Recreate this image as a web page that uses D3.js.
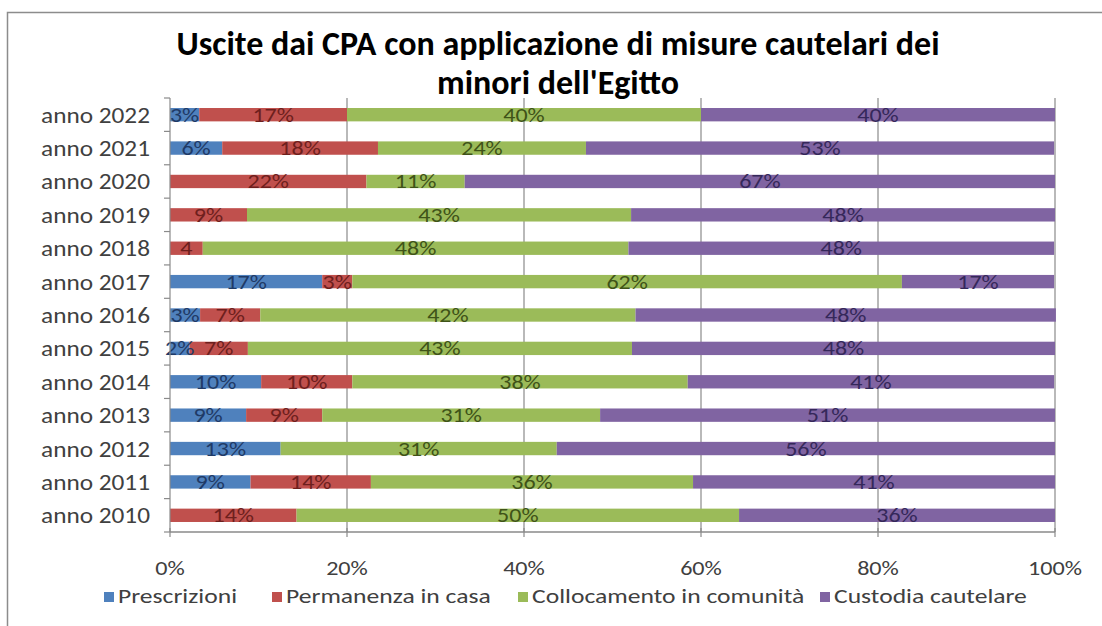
<!DOCTYPE html>
<html>
<head>
<meta charset="utf-8">
<script src="https://cdn.jsdelivr.net/npm/d3@7"></script>
<style>
  body { margin: 0; background: #fff; }
  svg text { font-family: Carlito, Calibri, "Liberation Sans Narrow", "Noto Sans", sans-serif; }
</style>
</head>
<body>
<div id="chart"></div>
<script>
// anni, dall'alto verso il basso
var years = ["anno 2022","anno 2021","anno 2020","anno 2019","anno 2018","anno 2017","anno 2016",
             "anno 2015","anno 2014","anno 2013","anno 2012","anno 2011","anno 2010"];
var series = ["Prescrizioni","Permanenza in casa","Collocamento in comunità","Custodia cautelare"];

// quote in percentuale per ogni anno (stesso ordine di years)
var prescrizioni = [3.3, 5.9, 0,    0,    0,   17.2, 3.4, 2.2, 10.3, 8.6, 12.5, 9.1, 0];
var permanenza   = [16.7,17.6,22.2, 8.7,  3.7, 3.4,  6.8, 6.6, 10.3, 8.6, 0,    13.6,14.3];
var collocamento = [40,  23.5,11.1, 43.4, 48.1,62.1, 42.4,43.4,37.9, 31.4,31.2, 36.4,50];
var custodia     = [40,  52.9,66.7, 47.9, 48.1,17.2, 47.5,47.8,41.4, 51.4,56.3, 40.9,35.7];
var xTicks = [0, 20, 40, 60, 80, 100];

var colors = ["#4f81bd","#c0504d","#9bbb59","#8064a2"];
var labelColors = ["#1f3a66","#6e1f1d","#3f5318","#35285a"];

var width = 1102, height = 626;
var svg = d3.select("#chart").append("svg")
  .attr("width", width)
  .attr("height", height);

// il grafico originale e' stirato in orizzontale: i testi vengono allargati
function stretch(sel, fx, fy, s) {
  sel.attr("transform", function(d, i) {
    return "translate(" + fx(d, i) + "," + fy(d, i) + ") scale(" + s + ",1)";
  });
}

// cornice
svg.append("path")
  .attr("d", "M7.5,640 V12.5 H1110")
  .attr("fill", "none")
  .attr("stroke", "#8c8c8c")
  .attr("stroke-width", 1.5);

var x = d3.scaleLinear().domain([0, 100]).range([170, 1055]);
var y = d3.scaleBand().domain(years).range([98, 532]).paddingInner(0.6).paddingOuter(0.3);
var step = y.step();

var table = years.map(function(yr, i) {
  return { year: yr, s0: prescrizioni[i], s1: permanenza[i], s2: collocamento[i], s3: custodia[i] };
});
var stacked = d3.stack().keys(["s0","s1","s2","s3"])(table);
var values = [prescrizioni, permanenza, collocamento, custodia];

// griglia verticale
svg.append("g").selectAll("line")
  .data(xTicks.slice(1))
  .enter().append("line")
  .attr("x1", function(d) { return x(d); })
  .attr("x2", function(d) { return x(d); })
  .attr("y1", 98)
  .attr("y2", 532)
  .attr("stroke", "#8a8a8a")
  .attr("stroke-width", 1.2);

// barre
var layer = svg.append("g").selectAll("g")
  .data(stacked)
  .enter().append("g")
  .attr("fill", function(d, i) { return colors[i]; });

layer.selectAll("rect")
  .data(function(d) { return d; })
  .enter().append("rect")
  .attr("x", function(d) { return x(d[0]); })
  .attr("width", function(d) { return x(d[1]) - x(d[0]); })
  .attr("y", function(d) { return y(d.data.year); })
  .attr("height", y.bandwidth());

// etichette dati
stacked.forEach(function(s, i) {
  var t = svg.append("g").selectAll("text")
    .data(s.filter(function(d) { return d[1] - d[0] > 0; }))
    .enter().append("text")
    .attr("text-anchor", "middle")
    .attr("font-size", "20px")
    .attr("fill", labelColors[i])
    .text(function(d) {
      var v = Math.round(values[i][years.indexOf(d.data.year)]);
      // nel grafico originale l'etichetta del 2018 e' troncata
      return (d.data.year == "anno 2018" && i == 1) ? v : v + "%";
    });
  stretch(t,
    function(d) { return x((d[0] + d[1]) / 2); },
    function(d) { return y(d.data.year) + y.bandwidth() / 2 + 7; }, 1.2);
});

// asse y
var yAxis = svg.append("g");
yAxis.append("line")
  .attr("x1", 170).attr("x2", 170)
  .attr("y1", 98).attr("y2", 532)
  .attr("stroke", "#8a8a8a").attr("stroke-width", 1.2);
yAxis.selectAll(".tk")
  .data(d3.range(years.length + 1))
  .enter().append("line")
  .attr("x1", 164).attr("x2", 170)
  .attr("y1", function(d) { return y(years[0]) - (step - y.bandwidth()) / 2 + d * step; })
  .attr("y2", function(d) { return y(years[0]) - (step - y.bandwidth()) / 2 + d * step; })
  .attr("stroke", "#8a8a8a").attr("stroke-width", 1.2);
var yl = yAxis.selectAll("text")
  .data(years)
  .enter().append("text")
  .attr("text-anchor", "end")
  .attr("font-size", "22px")
  .attr("fill", "#404040")
  .text(function(d) { return d; });
stretch(yl, function() { return 150; }, function(d) { return y(d) + y.bandwidth() / 2 + 8; }, 1.15);

// asse x
var xAxis = svg.append("g");
xAxis.append("line")
  .attr("x1", 170).attr("x2", 1055)
  .attr("y1", 532).attr("y2", 532)
  .attr("stroke", "#8a8a8a").attr("stroke-width", 1.5);
xAxis.selectAll(".tk")
  .data(xTicks)
  .enter().append("line")
  .attr("x1", function(d) { return x(d); })
  .attr("x2", function(d) { return x(d); })
  .attr("y1", 528).attr("y2", 537)
  .attr("stroke", "#8a8a8a").attr("stroke-width", 1.2);
var xl = xAxis.selectAll("text")
  .data(xTicks)
  .enter().append("text")
  .attr("text-anchor", "middle")
  .attr("font-size", "21px")
  .attr("fill", "#404040")
  .text(function(d) { return d + "%"; });
stretch(xl, function(d) { return x(d); }, function() { return 575; }, 1.15);

// titolo
var title = svg.append("text")
  .attr("text-anchor", "middle")
  .attr("font-size", "34px")
  .attr("font-weight", "bold")
  .attr("fill", "#000");
title.append("tspan").attr("x", 558).attr("y", 55).text("Uscite dai CPA con applicazione di misure cautelari dei");
title.append("tspan").attr("x", 558).attr("y", 94).text("minori dell'Egitto");

// legenda
var legendX = [104, 272, 518, 820];
var legend = svg.append("g").selectAll("g")
  .data(series)
  .enter().append("g")
  .attr("transform", function(d, i) { return "translate(" + legendX[i] + ",603)"; });
legend.append("rect")
  .attr("x", 0).attr("y", -11)
  .attr("width", 10).attr("height", 10)
  .attr("fill", function(d, i) { return colors[i]; });
var lt = legend.append("text")
  .attr("font-size", "21px")
  .attr("fill", "#404040")
  .text(function(d) { return d; });
stretch(lt, function() { return 14; }, function() { return 0; }, 1.22);
</script>
</body>
</html>
